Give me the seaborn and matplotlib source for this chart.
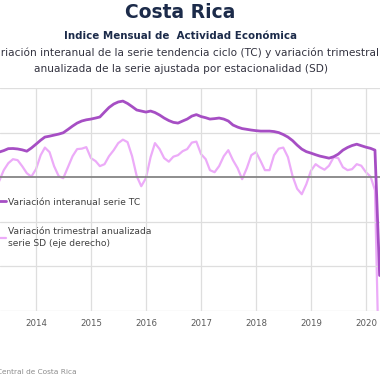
import matplotlib
matplotlib.use("Agg")
import matplotlib.pyplot as plt
import matplotlib.dates as mdates
from matplotlib.lines import Line2D
import pandas as pd
import seaborn as sns

# Monthly series, May 2013 - Apr 2020
start_month = "2013-05-01"
tc_values = [
    1.69, 1.79, 1.92, 1.93, 1.90, 1.84, 1.75, 1.96,
    2.22, 2.49, 2.70, 2.76, 2.83, 2.90, 2.99, 3.21, 3.44, 3.64, 3.78, 3.86,
    3.91, 3.98, 4.05, 4.38, 4.69, 4.92, 5.06, 5.12, 4.96, 4.75, 4.52, 4.45,
    4.38, 4.45, 4.35, 4.18, 3.98, 3.81, 3.69, 3.64, 3.78, 3.91, 4.11, 4.21,
    4.08, 4.00, 3.91, 3.94, 3.98, 3.91, 3.78, 3.51, 3.37, 3.27, 3.22, 3.17,
    3.13, 3.10, 3.10, 3.10, 3.07, 3.00, 2.87, 2.70, 2.46, 2.16, 1.89, 1.72,
    1.62, 1.51, 1.42, 1.35, 1.28, 1.38, 1.55, 1.82, 2.00, 2.13, 2.22, 2.12,
    2.02, 1.94, 1.82, -6.61,
]
sd_values = [
    -0.45, 0.79, 1.57, 2.02, 1.91, 1.24, 0.45, 0.06,
    0.90, 2.47, 3.32, 2.81, 1.24, 0.11, -0.11, 1.12, 2.36, 3.15, 3.20, 3.37,
    2.14, 1.80, 1.24, 1.46, 2.36, 3.03, 3.82, 4.21, 3.93, 2.36, 0.11, -1.01,
    -0.11, 2.25, 3.82, 3.15, 2.14, 1.74, 2.30, 2.47, 2.92, 3.15, 3.88, 3.99,
    2.59, 2.02, 0.79, 0.56, 1.24, 2.36, 3.03, 1.91, 1.01, -0.22, 1.01, 2.47,
    2.81, 1.80, 0.79, 0.79, 2.47, 3.20, 3.32, 2.25, 0.11, -1.29, -1.91, -0.79,
    0.73, 1.46, 1.12, 0.84, 1.29, 2.25, 2.14, 1.12, 0.79, 0.90, 1.46, 1.29,
    0.56, 0.06, -1.46, -25.0,
]
years = [2014, 2015, 2016, 2017, 2018, 2019, 2020]

labels = ["Variación interanual serie TC",
          "Variación trimestral anualizada\nserie SD (eje derecho)"]
tc_color = "#a64ec4"
sd_color = "#ecabf8"

df = pd.DataFrame({
    "fecha": pd.date_range(start_month, periods=len(tc_values), freq="MS"),
    "tc": tc_values,
    "sd": sd_values,
})

sns.set_style("white")
plt.rcParams["font.family"] = ["DejaVu Sans"]

W = H = 380
fig = plt.figure(figsize=(3.8, 3.8), dpi=100)
ax = fig.add_axes([0, 69 / H, 1, 223 / H])
ax2 = ax.twinx()

# grid drawn on the left axis
ax.set_ylim(-9, 6)
ax.set_yticks([-9, -6, -3, 3, 6])
ax.grid(axis="both", color="#dedede", linewidth=0.9)
ax.axhline(0, color="#858585", linewidth=1.3, zorder=1)

sns.lineplot(data=df, x="fecha", y="tc", ax=ax, color=tc_color,
             linewidth=2.0, zorder=4)
sns.lineplot(data=df, x="fecha", y="sd", ax=ax2, color=sd_color,
             linewidth=1.6, zorder=3)
ax2.set_ylim(-15, 10)
ax.set_zorder(ax2.get_zorder() + 1)
ax.patch.set_visible(False)

# x axis: one gridline per January
jan14 = mdates.date2num(pd.Timestamp("2014-01-01"))
day_per_px = 365.25 / 55
ax.set_xlim(jan14 - 36 * day_per_px, jan14 + (W - 36) * day_per_px)
ax.set_xticks([pd.Timestamp(f"{y}-01-01") for y in years])
ax.set_xticklabels([str(y) for y in years], fontsize=6.2, color="#595959")
ax.tick_params(axis="x", length=0, pad=6)
ax.tick_params(axis="y", length=0, labelleft=False)
ax2.tick_params(axis="y", length=0, labelright=False)
ax.set_xlabel("")
ax.set_ylabel("")
ax2.set_ylabel("")
for a in (ax, ax2):
    for s in a.spines.values():
        s.set_visible(False)

handles = [Line2D([], [], color=tc_color, linewidth=2.0),
           Line2D([], [], color=sd_color, linewidth=1.6)]
leg = fig.legend(handles, labels, loc="upper left",
                 bbox_to_anchor=(-12 / W, 1 - 193 / H), frameon=False,
                 fontsize=6.6, labelcolor="#404040", handlelength=1.5,
                 handletextpad=0.15, labelspacing=2.2, borderpad=0)
for t in leg.get_texts():
    t.set_linespacing(1.5)

navy = "#1c2b4a"
fig.text(180 / W, 1 - 13 / H, "Costa Rica", ha="center", va="center",
         fontsize=13.5, fontweight="bold", color=navy)
fig.text(180 / W, 1 - 36 / H, "Indice Mensual de  Actividad Económica",
         ha="center", va="center", fontsize=7.4, fontweight="bold", color=navy)
fig.text(184 / W, 1 - 53 / H,
         "Variación interanual de la serie tendencia ciclo (TC) y variación trimestral",
         ha="center", va="center", fontsize=7.6, color="#333340")
fig.text(181 / W, 1 - 69 / H,
         "anualizada de la serie ajustada por estacionalidad (SD)",
         ha="center", va="center", fontsize=7.6, color="#333340")
fig.text(77 / W, 1 - 372 / H, "Fuente: Banco Central de Costa Rica",
         ha="right", va="center", fontsize=5.3, color="#8c8c8c")

fig.savefig("out.png", dpi=100)
